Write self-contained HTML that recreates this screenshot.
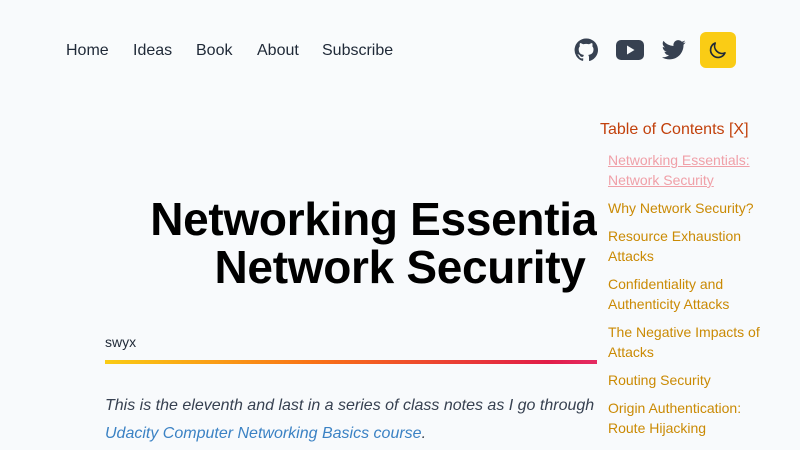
<!DOCTYPE html>
<html><head><style>
body{margin:0;width:800px;height:450px;overflow:hidden;background:#f8fafc;font-family:"Liberation Sans",sans-serif;position:relative}
.hdr{position:absolute;left:60px;top:0;width:680px;height:130px;background:#f9fbfc}
.nav{position:absolute;top:42px;font-size:16px;color:#1f2937}
.nav span{position:absolute;white-space:nowrap}
h1{position:absolute;left:100px;width:600px;top:195px;margin:0;text-align:center;font-size:46px;line-height:48px;font-weight:bold;color:#000;letter-spacing:-0.3px}
.toc{position:absolute;left:597px;top:196px;width:206px;height:254px;background:#f8fafc}
.tt{position:absolute;left:600px;top:121px;font-size:16px;color:#c2410c}
.ti{position:absolute;left:608px;font-size:14px;line-height:20px;color:#ca8a04}
</style></head><body>
<div class="hdr"></div>
<div class="nav"><span style="left:66px">Home</span><span style="left:133px">Ideas</span><span style="left:196px">Book</span><span style="left:257px">About</span><span style="left:322px">Subscribe</span></div>
<svg style="position:absolute;left:574px;top:38px" width="24" height="24" viewBox="0 0 24 24"><path fill="#374151" d="M12 .5a11.5 11.5 0 0 0-3.6 22.4c.6.1.8-.3.8-.6v-2c-3.2.7-3.900-1.5-3.9-1.5-.5-1.3-1.3-1.7-1.3-1.7-1-.7.1-.7.1-.7 1.2.1 1.8 1.2 1.8 1.2 1 1.8 2.7 1.3 3.4 1 .1-.8.4-1.3.7-1.6-2.6-.3-5.3-1.3-5.3-5.7 0-1.3.5-2.3 1.2-3.1-.1-.3-.5-1.5.1-3.1 0 0 1-.3 3.2 1.2a11 11 0 0 1 5.8 0c2.2-1.5 3.2-1.200 3.2-1.2.6 1.6.2 2.8.1 3.1.7.8 1.2 1.8 1.2 3.1 0 4.4-2.7 5.4-5.3 5.7.4.4.8 1.1.8 2.2v3.2c0 .3.2.7.8.6A11.5 11.5 0 0 0 12 .5z"/></svg>
<svg style="position:absolute;left:616px;top:40px" width="28" height="20"><rect x="0" y="0" width="28" height="20" rx="5" fill="#374151"/><path d="M11 5.5v9l7.5-4.5z" fill="#f8fafc"/></svg>
<svg style="position:absolute;left:662px;top:39px" width="24" height="22" viewBox="0 0 24 20"><path fill="#374151" d="M23.6 2.4a9.7 9.7 0 0 1-2.8.8A4.9 4.9 0 0 0 23 .5a9.8 9.8 0 0 1-3.1 1.2A4.9 4.9 0 0 0 11.5 6 14 14 0 0 1 1.4.9a4.9 4.9 0 0 0 1.5 6.6 4.9 4.9 0 0 1-2.2-.6 4.9 4.9 0 0 0 3.9 4.8 4.9 4.9 0 0 1-2.2.1 4.9 4.9 0 0 0 4.6 3.4A9.900 9.9 0 0 1 0 17.2 14 14 0 0 0 7.5 19.4c9.1 0 14-7.5 14-14v-.6a10 10 0 0 0 2.1-2.4z"/></svg>
<div style="position:absolute;left:700px;top:32px;width:36px;height:36px;border-radius:6px;background:#facc15"></div>
<svg style="position:absolute;left:708px;top:40px" width="20" height="20" viewBox="0 0 24 24"><path d="M20.4 15.4A9 9 0 0 1 8.6 3.6 9 9 0 1 0 20.4 15.4z" fill="none" stroke="#1f2937" stroke-width="2" stroke-linejoin="round"/></svg>
<h1>Networking Essentials:<br>Network Security</h1>
<div style="position:absolute;left:105px;top:334px;font-size:14px;color:#1f2937">swyx</div>
<div style="position:absolute;left:105px;top:360px;width:590px;height:4px;background:linear-gradient(90deg,#facc15,#f97316 35%,#e11d48 75%,#ec4899)"></div>
<div style="position:absolute;left:105px;top:397px;font-size:16px;font-style:italic;color:#374151;white-space:nowrap">This is the eleventh and last in a series of class notes as I go through the</div>
<div style="position:absolute;left:105px;top:425px;font-size:16px;font-style:italic;color:#3b82c4;white-space:nowrap">Udacity Computer Networking Basics course<span style="color:#374151">.</span></div>
<div class="toc"></div>
<div class="tt">Table of Contents [X]</div>
<div class="ti" style="top:150px;color:#f0a0a8;text-decoration:underline">Networking Essentials:<br>Network Security</div>
<div class="ti" style="top:198px">Why Network Security?</div>
<div class="ti" style="top:226px">Resource Exhaustion<br>Attacks</div>
<div class="ti" style="top:274px">Confidentiality and<br>Authenticity Attacks</div>
<div class="ti" style="top:322px">The Negative Impacts of<br>Attacks</div>
<div class="ti" style="top:370px">Routing Security</div>
<div class="ti" style="top:398px">Origin Authentication:<br>Route Hijacking</div>
</body></html>
